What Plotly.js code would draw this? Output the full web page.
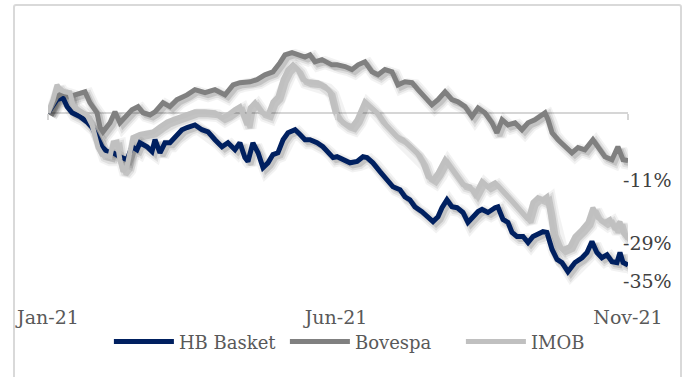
<!DOCTYPE html>
<html>
<head>
<meta charset="utf-8">
<script src="https://cdn.plot.ly/plotly-3.0.1.min.js"></script>
<style>
  html, body { margin: 0; padding: 0; background: #ffffff; }
  #wrap { position: relative; width: 689px; height: 377px; overflow: hidden; }
  #chart { width: 689px; height: 377px; }
  #frame {
    position: absolute; left: 13px; top: 4px; width: 669px; height: 400px;
    box-sizing: border-box; border: 2px solid #d9d9d9; border-radius: 3px;
    pointer-events: none;
  }
</style>
</head>
<body>
<div id="wrap">
  <div id="chart"></div>
  <div id="frame"></div>
</div>
<script>
// Days elapsed since 1 Jan 2021 and cumulative return (%) for each series
const hbDays = [0,4.7,7.9,10.0,12.6,16.8,20.4,23.1,25.7,28.3,30.9,34.1,37.7,41.4,44.0,46.6,48.2,51.9,54.5,56.1,58.7,61.3,63.9,66.6,70.2,72.9,77.0,80.7,83.9,87.5,91.2,94.3,98.0,100.6,103.2,104.8,107.4,110.1,112.7,115.3,117.9,120.5,123.2,125.8,129.5,132.1,134.7,137.3,141.0,144.1,146.8,149.4,151.5,154.6,158.3,162.0,165.1,167.2,170.3,174.0,177.7,180.8,184.5,187.1,189.7,192.3,196.0,199.2,201.8,204.4,206.5,209.1,211.7,214.4,217.5,220.1,222.8,225.4,227.5,230.6,234.3,235.8,238.5,241.1,243.2,245.8,249.0,251.6,254.2,256.8,259.4,261.5,264.2,266.8,269.4,272.5,276.2,279.9,282.5,285.1,287.7,290.3,293.0,295.6,298.2,299.8,301.4,304];
const hbBasket = [0,3.0,3.4,1.4,0,-0.9,-2.1,-3.4,-5.5,-7.8,-8.9,-9.2,-10.1,-10.8,-7.8,-8.5,-6.9,-7.8,-8.9,-6.2,-9.2,-6.9,-6.9,-5.5,-3.9,-3.4,-2.8,-3.9,-4.4,-6.2,-7.8,-6.9,-8.5,-6.9,-10.3,-11.2,-6.9,-9.2,-12.6,-11.5,-9.6,-9.2,-6.2,-4.6,-3.9,-5.0,-6.2,-6.2,-6.9,-7.8,-8.9,-10.3,-10.1,-10.8,-11.5,-11.2,-10.1,-10.3,-11.5,-13.5,-15.4,-17.0,-17.7,-19.3,-20.0,-21.6,-22.7,-23.9,-25.0,-23.9,-21.8,-20.0,-21.6,-21.8,-22.9,-25.2,-23.9,-22.7,-22.2,-22.9,-21.8,-21.6,-24.5,-25.2,-27.5,-28.4,-28.4,-29.8,-28.4,-28.0,-27.3,-27.5,-31.4,-33.7,-34.4,-36.5,-34.4,-33.3,-32.1,-29.6,-32.1,-33.3,-32.6,-34.2,-34.4,-32.1,-34.4,-35];

const bovDays = [0,4.7,7.9,11.5,14.2,19.4,22.0,25.7,27.3,28.8,32.5,35.1,37.7,40.4,44.0,47.2,49.8,53.5,56.1,60.3,63.9,67.6,72.9,77.0,82.3,87.5,92.8,97.0,100.6,105.9,109.5,113.7,117.9,121.6,124.2,127.9,131.0,134.7,137.3,139.9,143.6,146.2,148.8,151.5,155.7,159.3,162.5,166.1,169.8,173.0,176.6,180.3,183.4,187.1,190.8,193.9,197.6,201.2,204.4,208.1,211.7,214.9,218.6,222.2,225.4,229.0,232.7,235.3,238.0,241.1,244.8,248.4,251.6,255.2,258.9,260.5,262.1,264.2,267.3,271.0,274.6,277.8,281.4,285.6,288.3,291.9,295.6,298.7,301.4,304];
const bovespa = [0,3.7,4.6,3.7,4.1,4.8,2.3,0,-3.4,-4.4,-2.3,0.2,-2.3,-0.9,0.7,1.4,0,-0.5,0.2,2.3,1.4,3.0,4.1,5.3,4.6,5.3,4.1,6.4,6.9,7.1,7.6,8.7,9.4,11.5,13.3,13.8,13.3,12.8,13.3,11.7,12.2,11.7,11.0,11.0,10.6,9.9,11.0,11.7,9.4,8.7,9.9,9.4,6.4,7.1,6.9,5.3,3.7,1.8,3.0,4.8,3.0,2.5,1.4,-0.9,1.1,0,-2.3,-4.6,-1.6,-2.8,-2.3,-3.9,-2.3,-1.6,-0.5,0,-1.6,-4.6,-6.2,-7.8,-9.2,-8.0,-8.5,-6.2,-8.0,-10.1,-10.8,-7.8,-10.8,-11];

const imobDays = [0,2.6,4.7,6.3,8.9,11.5,13.1,15.7,18.3,20.4,23.1,24.6,26.2,28.3,30.9,32.5,34.1,36.2,37.7,39.3,41.4,43.0,44.5,48.2,51.9,55.0,58.7,62.4,65.5,69.2,72.9,77.0,82.3,87.5,91.2,94.3,98.0,100.6,104.3,105.9,108.5,112.2,115.3,117.9,120.5,123.2,125.8,128.4,131.0,133.6,136.3,138.9,141.5,145.2,147.8,150.4,153.0,156.7,159.3,162.0,164.6,166.1,168.8,172.4,175.6,179.2,182.9,186.1,189.7,193.4,196.5,199.2,201.8,204.4,208.1,210.7,214.4,217.5,221.2,223.8,227.5,230.6,234.3,238.0,241.1,244.8,248.4,251.6,254.2,256.8,259.4,261.5,263.1,264.7,267.3,269.9,273.6,276.2,279.9,283.0,285.6,288.3,291.9,294.5,297.2,299.8,301.4,304];
const imob = [0,3.0,6.4,5.3,4.8,4.6,1.8,0.7,0,-0.5,-2.8,-5.5,-8.0,-9.6,-10.1,-10.1,-6.9,-6.7,-10.8,-13.5,-12.4,-8.5,-5.7,-5.0,-4.6,-4.4,-3.2,-2.1,-1.6,-1.1,-0.5,0.2,0.2,0,-1.1,-0.5,0.7,1.4,-2.8,1.1,2.3,0,-0.5,2.5,3.7,7.6,9.9,11.0,9.9,7.6,7.1,7.1,6.9,6.0,4.8,0.2,-1.6,-2.8,-3.2,-1.6,0.7,2.5,1.4,0,-2.1,-3.9,-5.5,-6.2,-7.8,-9.2,-11.5,-14.7,-15.4,-13.8,-10.8,-12.4,-14.7,-16.5,-17.0,-18.8,-15.8,-17.0,-16.1,-17.7,-19.3,-21.1,-22.9,-24.5,-20.6,-19.5,-20.0,-19.3,-22.9,-27.5,-30.3,-31.4,-30.7,-28.4,-26.8,-25.2,-21.8,-24.1,-25.2,-24.5,-26.8,-25.0,-27.5,-29];

const seriesNames = ['HB Basket', 'Bovespa', 'IMOB'];
const tickDays = [0, 151, 304];
const tickLabels = ['Jan-21', 'Jun-21', 'Nov-21'];

const FONT = 'DejaVu Serif, Liberation Serif, serif';
const colors = ['#002060', '#808080', '#c0c0c0'];
const xs = [hbDays, bovDays, imobDays];
const ys = [hbBasket, bovespa, imob];

const W = 689, H = 377;
const margin = { l: 48, r: 61, t: 30, b: 77 };
const xMin = 0, xMax = 304;
const yMin = -43, yMax = 19;

// Shadow layer: the same series drawn on a hidden base axis pair whose ranges
// are nudged so the strokes land a few pixels right of and below the lines.
const shadowPx = 3;
const dx = shadowPx * (xMax - xMin) / (W - margin.l - margin.r);
const dy = shadowPx * (yMax - yMin) / (H - margin.t - margin.b);
const shadowStrokes = [[13, 'rgba(0,0,0,0.05)'], [9, 'rgba(0,0,0,0.08)'], [5, 'rgba(0,0,0,0.12)']];

const shadowTraces = [];
seriesNames.forEach((name, i) => {
  shadowStrokes.forEach(([w, c]) => {
    shadowTraces.push({
      type: 'scatter', mode: 'lines',
      x: xs[i], y: ys[i],
      xaxis: 'x', yaxis: 'y',
      line: { color: c, width: w },
      showlegend: false, hoverinfo: 'skip'
    });
  });
});

const lineTraces = seriesNames.map((name, i) => ({
  type: 'scatter',
  mode: 'lines',
  name: name,
  x: xs[i],
  y: ys[i],
  xaxis: 'x2', yaxis: 'y2',
  line: { color: colors[i], width: 5 },
  hoverinfo: 'skip'
}));

// empty trace that carries the tick marks along the zero line
const tickCarrier = { type: 'scatter', mode: 'lines', x: [], y: [], xaxis: 'x3', yaxis: 'y2', showlegend: false, hoverinfo: 'skip' };

// end-of-series value labels, offsets in px
const labelShift = [-16, -19, -4];
const annotations = ys.map((vals, i) => {
  const last = vals[vals.length - 1];
  return {
    x: xs[i][xs[i].length - 1],
    y: last,
    xref: 'x2', yref: 'y2',
    text: last + '%',
    showarrow: false,
    xanchor: 'right', yanchor: 'middle',
    xshift: 46, yshift: labelShift[i],
    font: { family: FONT, size: 19, color: '#404040' }
  };
});

const layout = {
  width: W, height: H,
  margin: margin,
  paper_bgcolor: '#ffffff',
  plot_bgcolor: 'rgba(0,0,0,0)',
  showlegend: true,
  legend: {
    orientation: 'h',
    x: 0.105, xanchor: 'left',
    y: -0.155, yanchor: 'middle',
    font: { family: FONT, size: 18, color: '#595959' },
    itemwidth: 60,
    entrywidth: 101,
    bgcolor: 'rgba(0,0,0,0)'
  },
  xaxis: {
    range: [xMin - dx, xMax - dx],
    visible: false, fixedrange: true
  },
  yaxis: {
    range: [yMin + dy, yMax + dy],
    visible: false, fixedrange: true
  },
  xaxis2: {
    overlaying: 'x', anchor: 'y2',
    range: [xMin, xMax],
    tickvals: tickDays,
    ticktext: tickLabels,
    ticks: '',
    showgrid: false,
    zeroline: false,
    showline: false,
    ticklabelstandoff: 4,
    tickfont: { family: FONT, size: 19, color: '#595959' },
    fixedrange: true
  },
  xaxis3: {
    overlaying: 'x', anchor: 'free',
    position: (0 - yMin) / (yMax - yMin),
    range: [xMin, xMax],
    tickvals: tickDays,
    showticklabels: false,
    ticks: 'outside', ticklen: 6, tickwidth: 1.5, tickcolor: '#d6d6d6',
    showgrid: false, zeroline: false, showline: false,
    fixedrange: true
  },
  yaxis2: {
    overlaying: 'y', anchor: 'x2',
    range: [yMin, yMax],
    showticklabels: false,
    showgrid: false,
    ticks: '',
    zeroline: true,
    zerolinecolor: '#d6d6d6',
    zerolinewidth: 2,
    fixedrange: true
  },
  annotations: annotations
};

Plotly.newPlot('chart', shadowTraces.concat(lineTraces, [tickCarrier]), layout,
  { displayModeBar: false, staticPlot: true });
</script>
</body>
</html>
